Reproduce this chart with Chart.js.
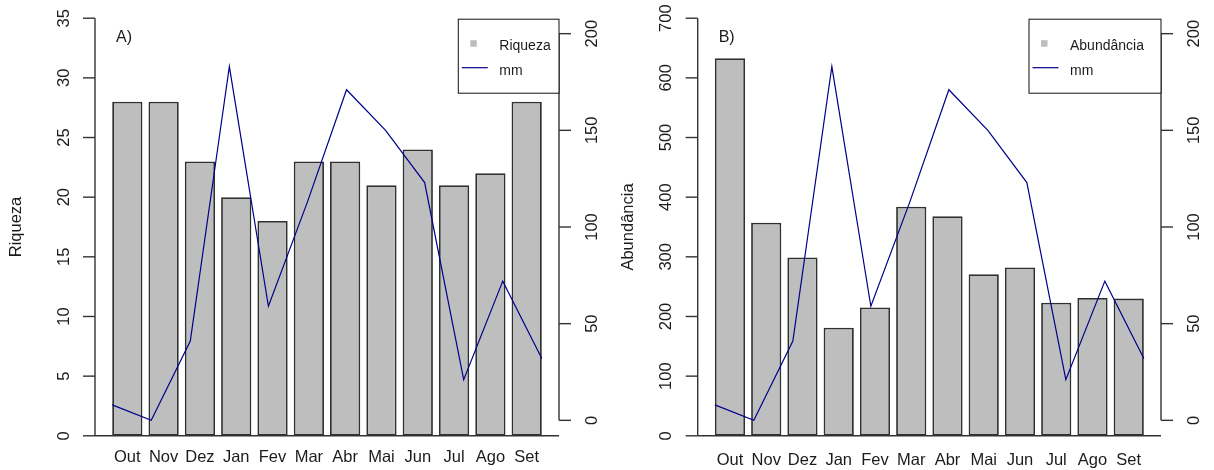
<!DOCTYPE html>
<html>
<head>
<meta charset="utf-8">
<script src="https://cdn.jsdelivr.net/npm/chart.js@4.4.1/dist/chart.umd.min.js"></script>
<style>
  body { margin: 0; background: #fff; }
  #wrap { position: relative; width: 1214px; height: 470px; }
  .panel { position: absolute; top: 0; width: 607px; height: 470px; }
</style>
</head>
<body>
<div id="wrap">
  <div class="panel" style="left:0"><canvas id="chartA" width="607" height="470"></canvas></div>
  <div class="panel" style="left:607px"><canvas id="chartB" width="607" height="470"></canvas></div>
</div>
<script>
var months = ['Out', 'Nov', 'Dez', 'Jan', 'Fev', 'Mar', 'Abr', 'Mai', 'Jun', 'Jul', 'Ago', 'Set']
var riqueza = [28, 28, 23, 20, 18, 23, 23, 21, 24, 21, 22, 28]
var abundancia = [633, 357, 299, 181, 215, 384, 368, 271, 282, 223, 231, 230]
var mm = [8, 0, 41, 183, 59, 113, 171, 150, 123, 21, 72, 32]

var riqTicks = [0, 5, 10, 15, 20, 25, 30, 35]
var abTicks = [0, 100, 200, 300, 400, 500, 600, 700]
var mmTicks = [0, 50, 100, 150, 200]

var FONT = '"Liberation Sans", Arial, sans-serif'
var INK = '#1c1c1c'

// barplot layout: width 1, space 0.2 -> bar i centred at 0.7 + 1.2*i
function barX(i) { return 0.7 + 1.2 * i }

function vtext(ctx, s, x, y) {
    ctx.save()
    ctx.translate(x, y)
    ctx.rotate(-Math.PI / 2)
    ctx.fillText(s, 0, 0)
    ctx.restore()
}

function seg(ctx, x1, y1, x2, y2) {
    ctx.beginPath()
    ctx.moveTo(x1, y1)
    ctx.lineTo(x2, y2)
    ctx.stroke()
}

// axes, labels and legend drawn the way base graphics does it
var rAxes = {
    id: 'rAxes',
    afterDatasetsDraw: function (chart, args, o) {
        var ctx = chart.ctx, a = chart.chartArea
        var x = chart.scales.x, y = chart.scales.y, y2 = chart.scales.y2
        ctx.save()
        ctx.strokeStyle = '#333'
        ctx.lineWidth = 1.4
        ctx.fillStyle = INK

        seg(ctx, a.left, a.bottom, a.right, a.bottom)

        // left axis
        var yl = o.yTicks
        seg(ctx, a.left, y.getPixelForValue(yl[0]), a.left, y.getPixelForValue(yl[yl.length - 1]))
        ctx.font = '16.5px ' + FONT
        ctx.textAlign = 'center'
        ctx.textBaseline = 'alphabetic'
        yl.forEach(function (v) {
            var py = y.getPixelForValue(v)
            seg(ctx, a.left - 12, py, a.left, py)
            vtext(ctx, String(v), a.left - 26.5, py)
        })

        // right axis (mm)
        seg(ctx, a.right, y2.getPixelForValue(mmTicks[0]), a.right, y2.getPixelForValue(mmTicks[mmTicks.length - 1]))
        mmTicks.forEach(function (v) {
            var py = y2.getPixelForValue(v)
            seg(ctx, a.right, py, a.right + 12, py)
            vtext(ctx, String(v), a.right + 38, py)
        })

        // month names under the bars
        months.forEach(function (m, i) {
            ctx.fillText(m, x.getPixelForValue(barX(i)), o.monthY)
        })

        vtext(ctx, o.name, o.titleX, (a.top + a.bottom) / 2)

        ctx.textAlign = 'left'
        ctx.font = '16px ' + FONT
        ctx.fillText(o.tag, a.left + 21, 42)

        // legend box
        var lx = a.right - o.legendW, ly = a.top + 1
        ctx.fillStyle = '#fff'
        ctx.fillRect(lx, ly, o.legendW, 74)
        ctx.strokeStyle = '#111'
        ctx.lineWidth = 1
        ctx.strokeRect(lx, ly, o.legendW, 74)
        ctx.fillStyle = '#bebebe'
        ctx.fillRect(lx + 12, ly + 21, 6.5, 6.5)
        ctx.strokeStyle = '#00008b'
        ctx.lineWidth = 1.2
        seg(ctx, lx + 3.5, ly + 48.5, lx + 29.5, ly + 48.5)
        ctx.fillStyle = INK
        ctx.font = '14px ' + FONT
        ctx.fillText(o.name, lx + 41, ly + 31)
        ctx.fillText('mm', lx + 41, ly + 55.5)
        ctx.restore()
    }
}

function makeChart(id, bars, barTicks, opt) {
    return new Chart(document.getElementById(id), {
        type: 'bar',
        data: {
            datasets: [{
                type: 'line',
                label: 'mm',
                data: mm.map(function (v, i) { return { x: i + 1, y: v } }),
                xAxisID: 'x2',
                yAxisID: 'y2',
                borderColor: '#00008b',
                borderWidth: 1.2,
                pointRadius: 0,
                tension: 0,
                fill: false,
                order: 0
            }, {
                type: 'bar',
                label: opt.name,
                data: bars.map(function (v, i) { return { x: barX(i), y: v } }),
                xAxisID: 'x',
                yAxisID: 'y',
                backgroundColor: '#bebebe',
                borderColor: '#303030',
                borderWidth: 1.8,
                borderSkipped: false,
                grouped: false,
                categoryPercentage: 1,
                barPercentage: 1 / 1.2,
                order: 1
            }]
        },
        options: {
            responsive: false,
            animation: false,
            layout: { padding: opt.pad },
            plugins: {
                legend: { display: false },
                tooltip: { enabled: false },
                rAxes: opt
            },
            scales: {
                x: {
                    type: 'linear', display: false, offset: false, min: -0.368, max: 14.968,
                    afterBuildTicks: function (s) { s.ticks = months.map(function (m, i) { return { value: barX(i) } }) }
                },
                x2: { type: 'linear', display: false, offset: false, min: 0.56, max: 12.44 },
                y: { type: 'linear', display: false, min: barTicks[0], max: barTicks[barTicks.length - 1] },
                y2: { type: 'linear', display: false, min: -8, max: 208 }
            }
        },
        plugins: [rAxes]
    })
}

makeChart('chartA', riqueza, riqTicks, {
    name: 'Riqueza', tag: 'A)', yTicks: riqTicks,
    pad: { left: 95, right: 48, top: 18.2, bottom: 34.2 },
    monthY: 461.5, titleX: 21, legendW: 100.7
})
makeChart('chartB', abundancia, abTicks, {
    name: 'Abundância', tag: 'B)', yTicks: abTicks,
    pad: { left: 90.7, right: 53, top: 18.2, bottom: 34.2 },
    monthY: 464.5, titleX: 25.5, legendW: 132
})
</script>
</body>
</html>
